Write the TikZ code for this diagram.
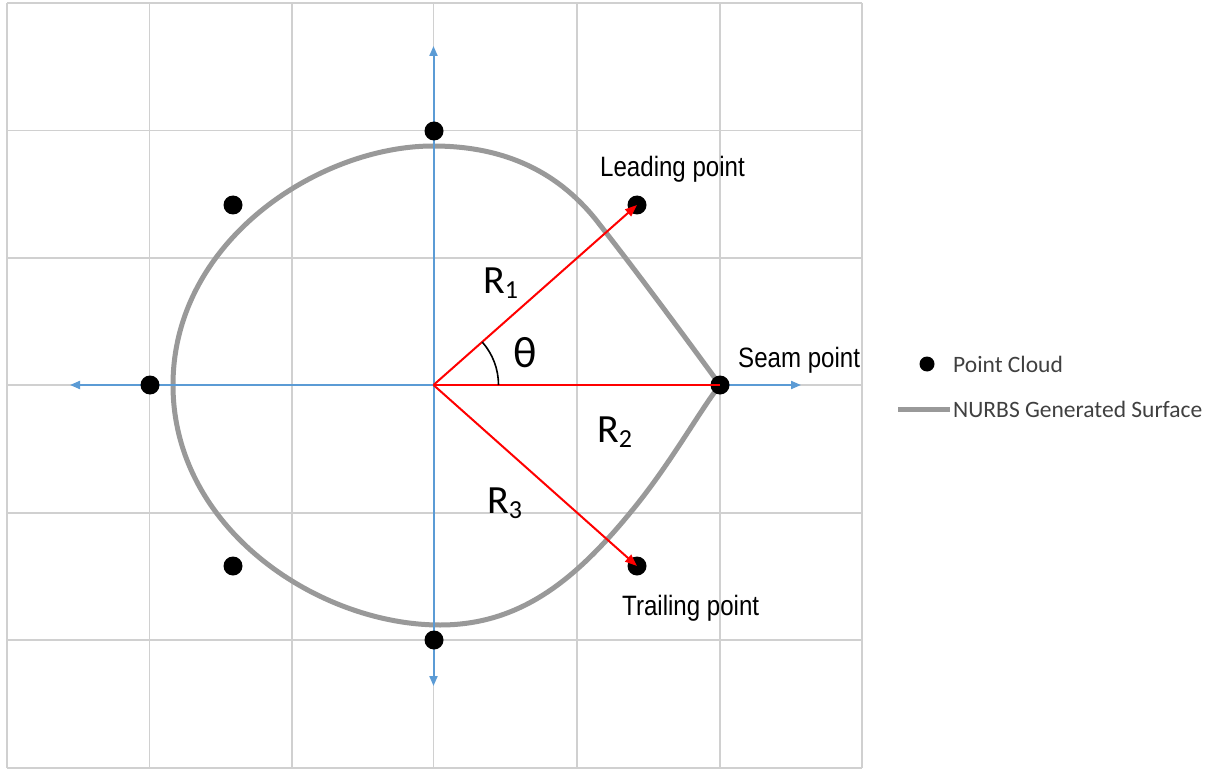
\documentclass[tikz,border=0pt]{standalone}
\usepackage{fontspec}
\usetikzlibrary{arrows.meta}
\newfontfamily\narrowlab[FakeStretch=0.86]{Liberation Sans}
\newfontfamily\calib{Carlito}
\definecolor{gridgray}{HTML}{D0D0D0}
\definecolor{axisblue}{HTML}{5B9BD5}
\definecolor{curvegray}{HTML}{999999}
\definecolor{legtext}{HTML}{404040}
\begin{document}
\begin{tikzpicture}[x=1pt,y=-1pt,
  gridline/.style={draw=gridgray,line width=1.5pt},
  axisline/.style={draw=axisblue,line width=2pt,{Triangle[length=10pt,width=8pt]}-{Triangle[length=10pt,width=8pt]}},
  curveline/.style={draw=curvegray,line width=5pt},
  cloudpt/.style={circle,fill=black,inner sep=0pt,minimum size=19pt},
  radline/.style={draw=red,line width=2pt},
  radarrow/.style={radline,-{Triangle[length=12pt,width=9pt]}},
  ptlabel/.style={anchor=base west,inner sep=0pt,font=\narrowlab\fontsize{28}{30}\selectfont},
  rlabel/.style={anchor=base west,inner sep=0pt,font=\calib\fontsize{40}{42}\selectfont},
  legtxt/.style={anchor=west,inner sep=0pt,text=legtext,font=\calib\fontsize{23.5}{26}\selectfont}]
\useasboundingbox (0,0) rectangle (1226,770);
\fill[white] (0,0) rectangle (1226,770);
% grid
\foreach \gx in {7,149.5,292,433.5,577,720,862}
  \draw[gridline] (\gx,3) -- (\gx,768);
\foreach \gy in {3,130.5,258,385,513,640,768}
  \draw[gridline] (7,\gy) -- (862,\gy);
% curve
\draw[curveline,line join=round]
  (720,385) .. controls (680,330) and (630,263) .. (600,225)
  .. controls (560,172) and (505,146) .. (433,146)
  .. controls (320,146) and (173,240) .. (173,385)
  .. controls (173,530) and (320,625) .. (440,625)
  .. controls (520,625) and (575,580) .. (630,513)
  .. controls (670,465) and (700,410) .. (720,385);
% axes
\coordinate (O) at (433.5,385);
\coordinate (axL) at (70,385);
\coordinate (axR) at (801,385);
\coordinate (axT) at (433.5,46);
\coordinate (axB) at (433.5,686);
\draw[axisline] (axL) -- (axR);
\draw[axisline] (axB) -- (axT);
% point cloud
\node[cloudpt] (ptop) at (434,131) {};
\node[cloudpt] (pul) at (233,205) {};
\node[cloudpt] (pleft) at (150,385) {};
\node[cloudpt] (pll) at (233,566) {};
\node[cloudpt] (pbot) at (434,640) {};
\node[cloudpt] (plead) at (637,205) {};
\node[cloudpt] (pseam) at (720,385) {};
\node[cloudpt] (ptrail) at (637,566) {};
% radii
\draw[radarrow] (O) -- (plead.center);
\draw[radline] (O) -- (pseam.center);
\draw[radarrow] (O) -- (ptrail.center);
% angle
\draw[black,line width=1.6pt] (498.5,385) arc[start angle=0,end angle=-41.4,radius=65];
% labels
\node[ptlabel] (llead) at (600,177) {Leading point};
\node[ptlabel] (lseam) at (738,367) {Seam point};
\node[ptlabel] (ltrail) at (622,615) {Trailing point};
\node[rlabel] (r1) at (483,293) {R\raisebox{-5pt}{\fontsize{26}{28}\selectfont 1}};
\node[rlabel] (r2) at (597,442) {R\raisebox{-5pt}{\fontsize{26}{28}\selectfont 2}};
\node[rlabel] (r3) at (487,513) {R\raisebox{-5pt}{\fontsize{26}{28}\selectfont 3}};
\node[rlabel] (th) at (513,367) {\fontsize{44}{46}\selectfont θ};
% legend
\node[circle,fill=black,inner sep=0pt,minimum size=15pt] (ldot) at (927,364) {};
\node[legtxt] (lcloud) at (953,364) {Point Cloud};
\coordinate (lineA) at (898,409);
\coordinate (lineB) at (950,409);
\draw[curveline] (lineA) -- (lineB);
\node[legtxt] (lnurbs) at (953,409) {NURBS Generated Surface};
\end{tikzpicture}
\end{document}
